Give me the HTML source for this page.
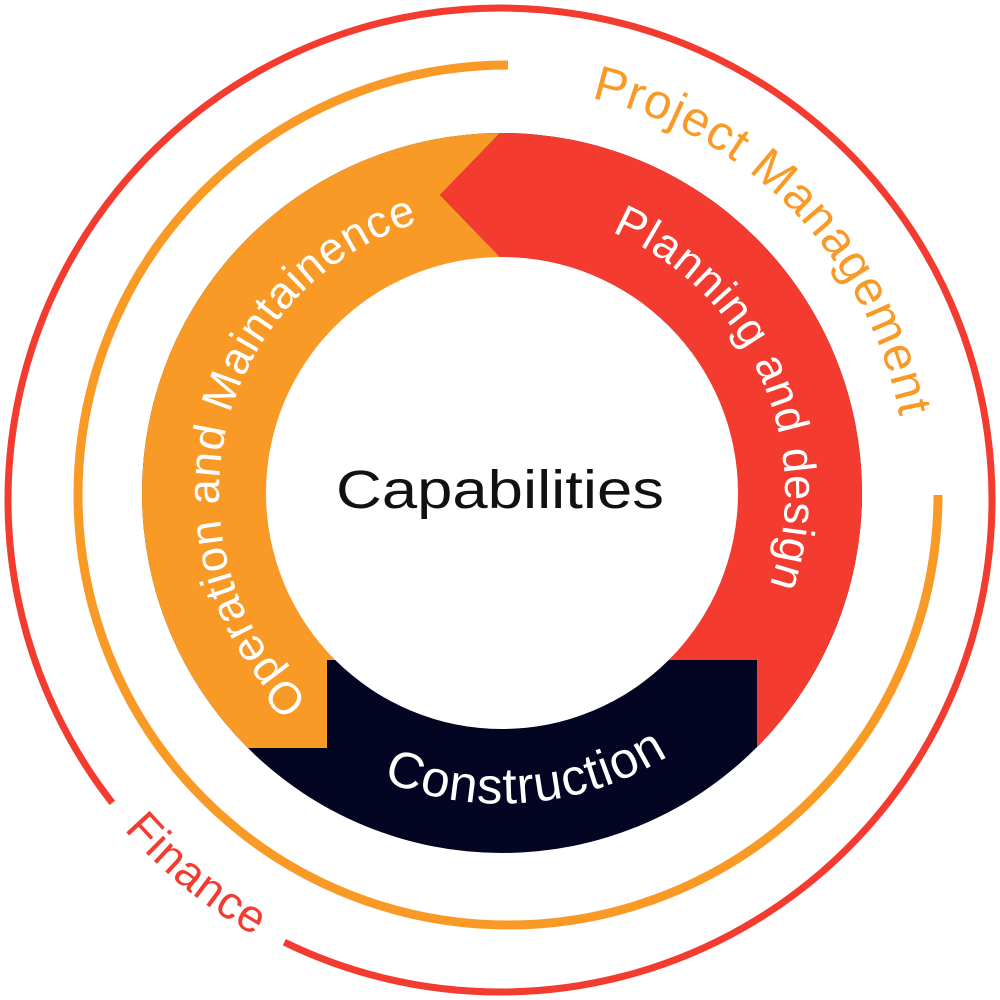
<!DOCTYPE html>
<html><head><meta charset="utf-8"><style>html,body{margin:0;padding:0;background:#fff}svg{display:block}</style></head>
<body>
<svg width="1000" height="1000" viewBox="0 0 1000 1000" xmlns="http://www.w3.org/2000/svg" font-family="'Liberation Sans', sans-serif">
<defs>
<clipPath id="ring"><circle cx="502" cy="493" r="360"/></clipPath>
<path id="pPlan" d="M433.5 218.4 A283 283 0 0 1 660.3 727.6"/>
<path id="pOp" d="M391.4 753.5 A283 283 0 0 1 516.8 210.4"/>
<path id="pCon" d="M197.7 574.5 A316 316 0 0 0 815.8 520.5"/>
<path id="pFin" d="M62.7 257.6 A500 500 0 0 0 828 877.4"/>
<path id="pPM" d="M275.5 157.3 A405 405 0 0 1 829.6 731.1"/>
</defs>
<path d="M284.3 942.2 A492 492 0 1 0 112.3 802.9" fill="none" stroke="#f33b2f" stroke-width="7"/>
<path d="M938 495 A430 430 0 1 1 508 65" fill="none" stroke="#f99a27" stroke-width="9"/>
<circle cx="502" cy="493" r="360" fill="#040522"/>
<g clip-path="url(#ring)">
<polygon points="0,0 500,0 500,133 440,195 500,257 500,660 327,660 327,748 0,748" fill="#f99a27"/>
<polygon points="500,0 1000,0 1000,1000 757,1000 757,660 500,660 500,257 440,195 500,133" fill="#f33b2f"/>
</g>
<circle cx="502" cy="493" r="236" fill="#fff"/>
<text x="500" y="508" font-size="54" text-anchor="middle" fill="#111" textLength="328" lengthAdjust="spacingAndGlyphs">Capabilities</text>
<text font-size="45" fill="#fff" letter-spacing="1"><textPath href="#pPlan" startOffset="50%" text-anchor="middle">Planning and design</textPath></text>
<text font-size="45" fill="#fff" letter-spacing="1"><textPath href="#pOp" startOffset="50%" text-anchor="middle">Operation and Maintainence</textPath></text>
<text font-size="51" fill="#fff" letter-spacing="1"><textPath href="#pCon" startOffset="50%" text-anchor="middle">Construction</textPath></text>
<text font-size="46" fill="#f33b2f" letter-spacing="1"><textPath href="#pFin" startOffset="50%" text-anchor="middle">Finance</textPath></text>
<text font-size="49" fill="#f99a27" letter-spacing="1"><textPath href="#pPM" startOffset="50%" text-anchor="middle">Project Management</textPath></text>
</svg>
</body></html>
